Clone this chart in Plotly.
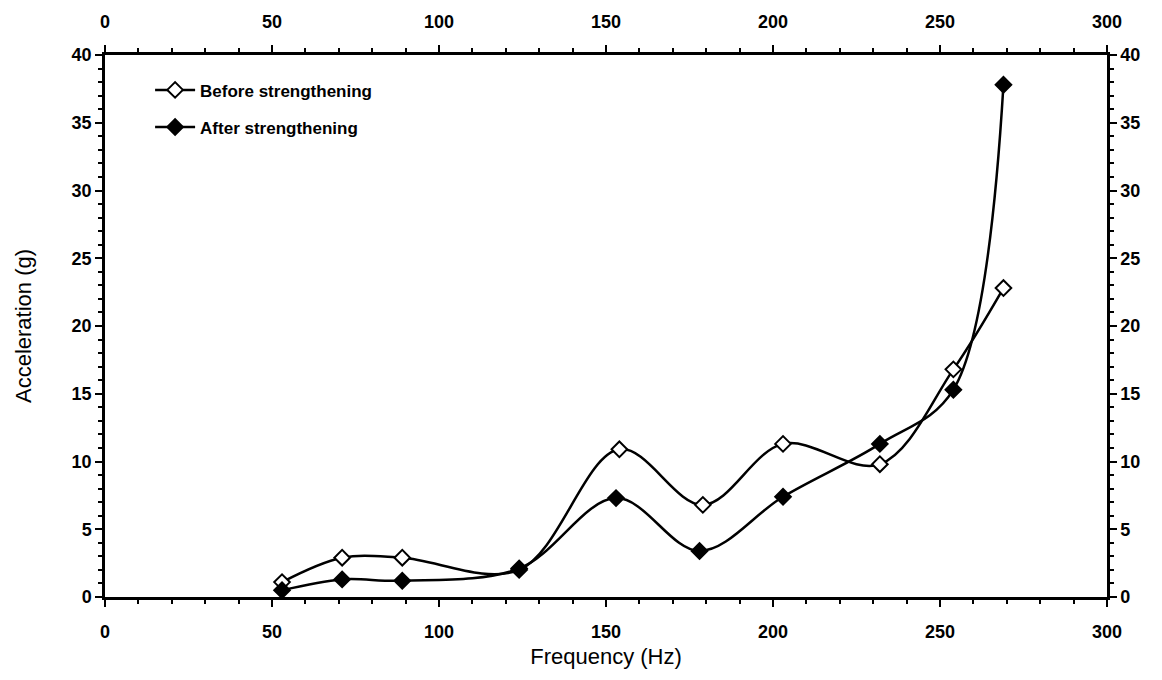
import plotly.graph_objects as go

freq = [53, 71, 89, 124, 154, 179, 203, 232, 254, 269]
before = [1.1, 2.9, 2.9, 2.0, 10.9, 6.8, 11.3, 9.8, 16.8, 22.8]
freq_after = [53, 71, 89, 124, 153, 178, 203, 232, 254, 269]
after = [0.5, 1.3, 1.2, 2.1, 7.3, 3.4, 7.4, 11.3, 15.3, 37.8]

x_ticks = [0, 50, 100, 150, 200, 250, 300]
y_ticks = [0, 5, 10, 15, 20, 25, 30, 35, 40]

FONT = "Liberation Sans, Arial, sans-serif"

fig = go.Figure()
fig.add_trace(go.Scatter(
    x=freq, y=before, mode="lines+markers", name="<b>Before strengthening</b>",
    line=dict(color="black", width=2.5, shape="spline", smoothing=1),
    marker=dict(symbol="diamond", size=12, color="white", line=dict(color="black", width=2)),
    legendgroup="a",
))
fig.add_trace(go.Scatter(
    x=freq_after, y=after, mode="lines+markers", name="<b>After strengthening</b>",
    line=dict(color="black", width=2.5, shape="spline", smoothing=1),
    marker=dict(symbol="diamond", size=12, color="black", line=dict(color="black", width=2)),
    legendgroup="b",
))
# invisible trace to show top/right axes
fig.add_trace(go.Scatter(x=[0, 300], y=[0, 40], xaxis="x2", yaxis="y2",
                         mode="markers", marker=dict(opacity=0), showlegend=False,
                         hoverinfo="skip"))

axis_common = dict(
    showgrid=False, zeroline=False, showline=True, linecolor="black", linewidth=2.5,
    ticks="outside", tickcolor="black", tickwidth=2, ticklen=7,
    tickfont=dict(family=FONT, size=18, color="black", weight="bold"),
)
xt = dict(tickmode="array", tickvals=x_ticks, ticktext=[f"<b>{v}</b>" for v in x_ticks])
yt = dict(tickmode="array", tickvals=y_ticks, ticktext=[f"<b>{v}</b>" for v in y_ticks])
xminor = dict(dtick=10, tick0=0, ticks="outside", ticklen=4, tickwidth=2, tickcolor="black")
yminor = dict(dtick=1, tick0=0, ticks="outside", ticklen=4, tickwidth=2, tickcolor="black")

fig.update_layout(
    width=1162, height=680,
    margin=dict(l=105, r=55, t=52, b=83),
    plot_bgcolor="white", paper_bgcolor="white",
    font=dict(family=FONT, color="black"),
    xaxis=dict(range=[0, 300], minor=xminor, **xt, ticklabelstandoff=10,
               title=dict(text="Frequency (Hz)", font=dict(family=FONT, size=22, color="black"), standoff=8),
               **axis_common),
    yaxis=dict(range=[0, 40], minor=yminor, **yt,
               title=dict(text="Acceleration (g)", font=dict(family=FONT, size=22, color="black"), standoff=34),
               **axis_common),
    xaxis2=dict(range=[0, 300], minor=xminor, **xt, overlaying="x", side="top", ticklabelstandoff=10,
                **axis_common),
    yaxis2=dict(range=[0, 40], minor=yminor, **yt, overlaying="y", side="right",
                **axis_common),
    legend=dict(x=0.045, y=0.968, xanchor="left", yanchor="top",
                font=dict(family=FONT, size=17, color="black"),
                bgcolor="rgba(0,0,0,0)", traceorder="grouped", tracegroupgap=12,
                itemwidth=40),
    showlegend=True,
)

fig.write_html("out.html")
